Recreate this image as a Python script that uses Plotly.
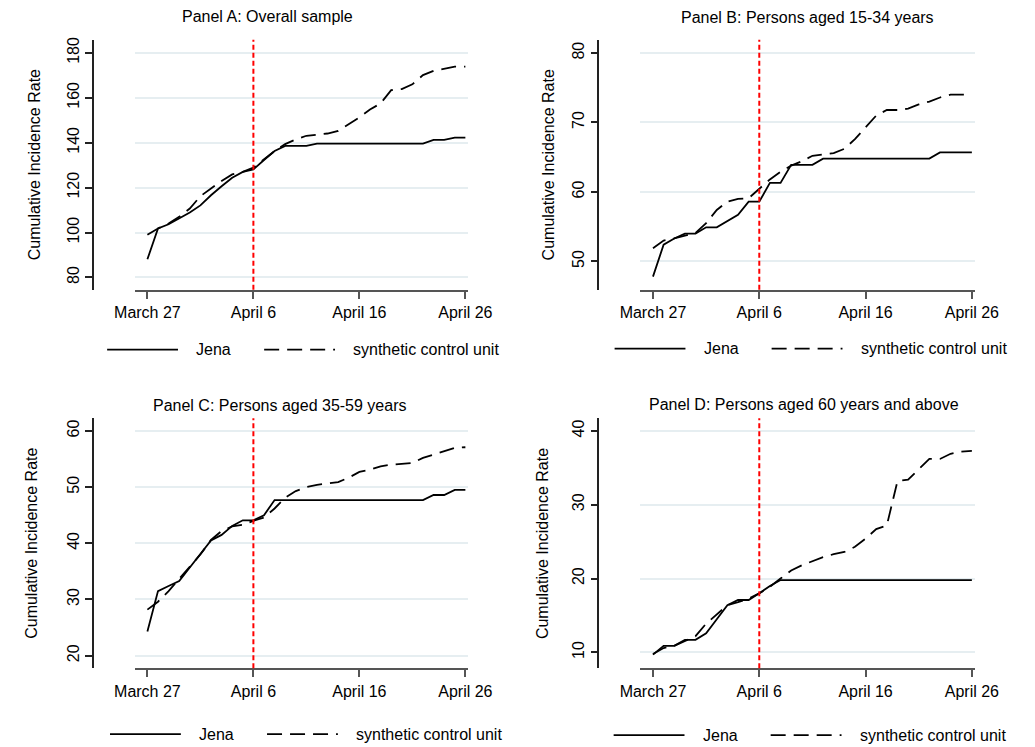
import pandas as pd
import plotly.graph_objects as go

# ---- data -------------------------------------------------------------
dates = pd.date_range("2020-03-27", "2020-04-26", freq="D")
tick_dates = ["2020-03-27", "2020-04-06", "2020-04-16", "2020-04-26"]
tick_labels = ["March 27", "April 6", "April 16", "April 26"]
intervention_date = "2020-04-06"

panel_titles = [
    "Panel A: Overall sample",
    "Panel B: Persons aged 15-34 years",
    "Panel C: Persons aged 35-59 years",
    "Panel D: Persons aged 60 years and above",
]
series_names = ["Jena", "synthetic control unit"]

jena_a = [88.1, 101.8, 103.7, 106.2, 108.9, 112.1, 116.6, 120.6, 124.4, 127.0,
          128.1, 132.3, 136.3, 138.6, 138.6, 138.6, 139.6, 139.6, 139.6, 139.6,
          139.6, 139.6, 139.6, 139.6, 139.6, 139.6, 139.6, 141.3, 141.3, 142.3, 142.3]
synth_a = [99.0, 101.8, 104.0, 107.0, 110.7, 116.2, 119.6, 123.0, 125.9, 127.0,
           128.9, 132.6, 136.3, 139.4, 141.5, 143.1, 143.6, 144.1, 145.3, 148.3,
           151.3, 154.8, 157.5, 163.4, 163.9, 166.0, 170.1, 172.0, 173.0, 173.9, 173.9]

jena_b = [47.8, 52.4, 53.3, 54.0, 54.0, 54.9, 54.9, 55.8, 56.7, 58.6,
          58.6, 61.3, 61.3, 63.9, 63.9, 63.9, 64.8, 64.8, 64.8, 64.8,
          64.8, 64.8, 64.8, 64.8, 64.8, 64.8, 64.8, 65.7, 65.7, 65.7, 65.7]
synth_b = [51.9, 53.0, 53.3, 53.7, 54.1, 55.5, 57.4, 58.6, 59.0, 59.1,
           60.5, 61.8, 62.9, 63.8, 64.4, 65.2, 65.4, 65.6, 66.2, 67.6,
           69.3, 71.0, 71.8, 71.8, 72.0, 72.6, 73.0, 73.6, 74.0, 74.0, 74.0]

jena_c = [24.3, 31.5, 32.4, 33.3, 35.7, 38.0, 40.5, 41.5, 43.1, 44.1,
          44.1, 45.0, 47.7, 47.7, 47.7, 47.7, 47.7, 47.7, 47.7, 47.7,
          47.7, 47.7, 47.7, 47.7, 47.7, 47.7, 47.7, 48.6, 48.6, 49.5, 49.5]
synth_c = [28.2, 29.6, 31.5, 33.6, 35.8, 38.0, 40.6, 42.2, 43.0, 43.3,
           44.0, 44.6, 46.2, 48.1, 49.3, 50.0, 50.4, 50.6, 50.9, 51.7,
           52.7, 53.1, 53.7, 54.0, 54.1, 54.3, 55.2, 55.8, 56.4, 57.0, 57.1]

jena_d = [9.7, 10.9, 10.9, 11.7, 11.7, 12.6, 14.5, 16.4, 17.1, 17.1,
          18.0, 19.0, 19.8, 19.8, 19.8, 19.8, 19.8, 19.8, 19.8, 19.8,
          19.8, 19.8, 19.8, 19.8, 19.8, 19.8, 19.8, 19.8, 19.8, 19.8, 19.8]
synth_d = [9.8, 10.6, 10.9, 11.6, 12.2, 13.9, 15.2, 16.4, 16.8, 17.3,
           18.0, 18.9, 20.0, 21.1, 21.8, 22.4, 22.9, 23.3, 23.6, 24.3,
           25.4, 26.7, 27.2, 33.2, 33.4, 34.8, 36.2, 36.2, 36.9, 37.2, 37.3]

y_ticks = [
    [80, 100, 120, 140, 160, 180],
    [50, 60, 70, 80],
    [20, 30, 40, 50, 60],
    [10, 20, 30, 40],
]
y_ranges = [[74.5, 185.8], [45.9, 81.9], [17.75, 62.25], [7.85, 41.7]]

jena_all = [jena_a, jena_b, jena_c, jena_d]
synth_all = [synth_a, synth_b, synth_c, synth_d]

# ---- layout helpers (pixel -> paper) ----------------------------------
W, H = 1035, 747
FONT = "Liberation Sans, Arial, sans-serif"
LONGDASH = "15px,8px"


def px(x):
    return x / W


def py(y):
    return 1 - y / H


# per panel: plot-area left/right, top/bottom, y-axis line x, title centre,
# y-title x, legend row y, legend key start x
panels = [
    dict(x0=120, x1=468, top=37, bot=288, yline=76, tx=259, ty=14, ytx=15, ly=348, lx=91),
    dict(x0=648, x1=997, top=37, bot=288, yline=604, tx=822, ty=15, ytx=552, ly=347, lx=621),
    dict(x0=120, x1=468, top=417, bot=668, yline=76, tx=271, ty=404, ytx=12, ly=734, lx=94),
    dict(x0=648, x1=997, top=417, bot=668, yline=604, tx=819, ty=403, ytx=546, ly=735, lx=620),
]

x_left = dates[0] - pd.Timedelta(hours=28.3)
x_right = dates[-1] + pd.Timedelta(hours=6.2)

fig = go.Figure()
shapes = []
annotations = []

for i, p in enumerate(panels):
    n = "" if i == 0 else str(i + 1)
    xa, ya = "x" + n, "y" + n

    fig.add_trace(go.Scatter(
        x=dates, y=jena_all[i], mode="lines", name=series_names[0],
        line=dict(color="black", width=1.8), xaxis=xa, yaxis=ya,
        showlegend=False,
    ))
    fig.add_trace(go.Scatter(
        x=dates, y=synth_all[i], mode="lines", name=series_names[1],
        line=dict(color="black", width=1.8, dash=LONGDASH), xaxis=xa, yaxis=ya,
        showlegend=False,
    ))

    fig.update_layout({
        "xaxis" + n: dict(
            domain=[px(p["x0"]), px(p["x1"])], anchor=ya,
            range=[x_left, x_right],
            showline=True, linecolor="#555555", linewidth=2,
            ticks="outside", ticklen=7, tickwidth=1.5, tickcolor="#555555",
            tickvals=tick_dates, ticktext=tick_labels,
            showgrid=False, zeroline=False,
            tickfont=dict(family=FONT, size=16, color="black"),
        ),
        "yaxis" + n: dict(
            domain=[py(p["bot"]), py(p["top"])], anchor="free",
            position=px(p["yline"]),
            range=y_ranges[i],
            showline=True, linecolor="#222222", linewidth=1.5,
            ticks="outside", ticklen=7, tickwidth=1.5, tickcolor="#222222",
            tickvals=y_ticks[i], tickangle=-90,
            showgrid=True, gridcolor="#e6eef1", gridwidth=1.5,
            zeroline=False,
            tickfont=dict(family=FONT, size=16, color="black"),
        ),
    })

    # treatment date marker
    shapes.append(dict(
        type="line", xref=xa, yref=ya + " domain",
        x0=intervention_date, x1=intervention_date, y0=0, y1=1,
        line=dict(color="red", width=2, dash="5px,3px"), layer="above",
    ))

    # panel title
    annotations.append(dict(
        text=panel_titles[i], xref="paper", yref="paper",
        x=px(p["tx"]), y=py(p["ty"]), xanchor="center", yanchor="middle",
        showarrow=False, font=dict(family=FONT, size=16, color="black"),
    ))
    # y-axis title
    annotations.append(dict(
        text="Cumulative Incidence Rate", xref="paper", yref="paper",
        x=px(p["ytx"]), y=py((p["top"] + p["bot"]) / 2),
        xanchor="center", yanchor="middle", textangle=-90,
        showarrow=False, font=dict(family=FONT, size=16, color="black"),
    ))

    # legend row: solid key, label, dashed key, label
    lx, ly = p["lx"], p["ly"]
    shapes.append(dict(
        type="line", xref="paper", yref="paper",
        x0=px(lx), x1=px(lx + 74), y0=py(ly), y1=py(ly),
        line=dict(color="black", width=1.8),
    ))
    annotations.append(dict(
        text=series_names[0], xref="paper", yref="paper",
        x=px(lx + 91), y=py(ly), xanchor="left", yanchor="middle",
        showarrow=False, font=dict(family=FONT, size=16, color="black"),
    ))
    shapes.append(dict(
        type="line", xref="paper", yref="paper",
        x0=px(lx + 164), x1=px(lx + 238), y0=py(ly), y1=py(ly),
        line=dict(color="black", width=1.8, dash=LONGDASH),
    ))
    annotations.append(dict(
        text=series_names[1], xref="paper", yref="paper",
        x=px(lx + 255), y=py(ly), xanchor="left", yanchor="middle",
        showarrow=False, font=dict(family=FONT, size=16, color="black"),
    ))

fig.update_layout(
    width=W, height=H,
    margin=dict(l=0, r=0, t=0, b=0),
    paper_bgcolor="white", plot_bgcolor="white",
    font=dict(family=FONT, size=16, color="black"),
    shapes=shapes, annotations=annotations,
    showlegend=False,
)

fig.write_html("out.html")
